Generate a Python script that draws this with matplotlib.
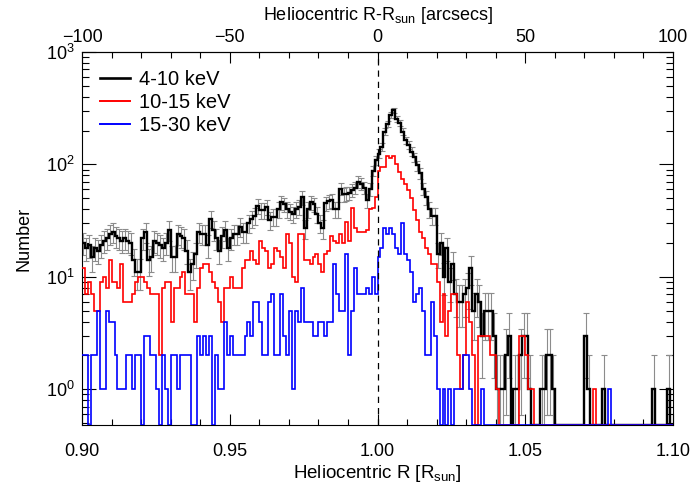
import numpy as np
import matplotlib
matplotlib.use('Agg')
import matplotlib.pyplot as plt
from matplotlib.ticker import MultipleLocator, LogLocator, NullFormatter, FixedLocator
from matplotlib.lines import Line2D

plt.rcParams['font.family'] = ['Liberation Sans', 'DejaVu Sans']
plt.rcParams['mathtext.fontset'] = 'custom'
plt.rcParams['mathtext.rm'] = 'Liberation Sans'
plt.rcParams['mathtext.it'] = 'Liberation Sans:italic'
plt.rcParams['mathtext.bf'] = 'Liberation Sans:bold'

# ---------------- data ----------------
r_min, r_max, n_bins = 0.90, 1.10, 200

counts_4_10 = [
    20, 18, 19, 15, 18, 17, 19, 21, 22, 24,
    25, 23, 22, 21, 22, 21, 20, 14, 11, 11,
    22, 25, 14, 15, 21, 20, 19, 18, 20, 26,
    15, 15, 24, 23, 22, 17, 11, 13, 16, 25,
    24, 24, 19, 33, 26, 22, 17, 23, 26, 18,
    22, 24, 24, 28, 25, 25, 30, 33, 35, 43,
    39, 39, 42, 32, 34, 34, 40, 46, 44, 40,
    38, 36, 40, 42, 51, 27, 40, 46, 44, 36,
    30, 27, 45, 47, 48, 40, 40, 61, 54, 55,
    56, 59, 62, 70, 67, 62, 48, 60, 88, 109,
    125, 143, 195, 230, 275, 303, 255, 235, 195, 164,
    150, 130, 116, 98, 83, 61, 51, 40, 35, 35,
    16, 20, 10, 18, 9, 13, 7, 6, 6, 7,
    8, 12, 5, 7, 6, 3, 5, 5, 5, 3,
    1, 1, 1, 2, 3, 0, 1, 1, 2, 3,
    3, 1, 0, 0, 0, 1, 1, 2, 2, 1,
    0, 0, 0, 0, 0, 0, 0, 0, 0, 0,
    3, 1, 0, 0, 0, 0, 1, 0, 0, 0,
    0, 0, 0, 0, 0, 0, 0, 0, 0, 0,
    0, 0, 0, 1, 0, 0, 0, 0, 1, 0,
]

counts_10_15 = [
    12, 7, 9, 7, 5, 5, 9, 10, 8, 14,
    9, 9, 8, 13, 6, 6, 6, 7, 9, 10,
    10, 9, 8, 7, 7, 7, 2, 8, 9, 9,
    4, 8, 8, 10, 11, 7, 7, 7, 4, 8,
    12, 13, 13, 11, 9, 8, 6, 4, 8, 8,
    10, 8, 8, 8, 12, 14, 14, 17, 14, 13,
    21, 18, 17, 12, 13, 18, 17, 15, 12, 24,
    20, 10, 9, 24, 24, 14, 14, 13, 15, 16,
    13, 11, 16, 17, 23, 21, 20, 24, 20, 31,
    21, 41, 27, 25, 25, 25, 26, 40, 41, 51,
    88, 95, 95, 120, 113, 120, 101, 85, 74, 67,
    59, 50, 39, 32, 25, 22, 18, 16, 13, 13,
    9, 4, 7, 3, 5, 7, 7, 2, 1, 2,
    6, 4, 2, 0, 3, 3, 3, 3, 2, 2,
    1, 0, 0, 0, 0, 0, 0, 0, 3, 3,
    2, 1, 1, 0, 0, 0, 0, 0, 0, 0,
    0, 0, 0, 0, 0, 0, 0, 0, 0, 0,
    0, 0, 0, 1, 0, 0, 0, 0, 0, 0,
    0, 0, 0, 0, 0, 0, 0, 0, 0, 0,
    0, 0, 0, 0, 0, 0, 0, 0, 0, 0,
]

counts_15_30 = [
    2, 2, 0, 2, 2, 5, 1, 1, 5, 4,
    4, 2, 1, 1, 1, 2, 2, 1, 2, 2,
    0, 3, 3, 2, 2, 1, 0, 2, 1, 0,
    2, 2, 1, 2, 2, 2, 2, 0, 0, 3,
    2, 3, 2, 3, 0, 2, 1, 1, 4, 2,
    3, 2, 2, 2, 2, 3, 4, 3, 6, 6,
    4, 2, 2, 6, 7, 2, 2, 7, 3, 2,
    5, 1, 5, 4, 8, 4, 4, 4, 3, 3,
    4, 4, 3, 4, 4, 13, 7, 5, 5, 16,
    2, 5, 12, 7, 7, 7, 8, 7, 10, 7,
    15, 18, 27, 24, 27, 24, 18, 16, 30, 16,
    14, 11, 6, 7, 8, 5, 2, 2, 6, 3,
    1, 0, 1, 0, 1, 0, 1, 1, 1, 2,
    2, 1, 0, 0, 0, 1, 0, 0, 0, 0,
    0, 0, 0, 0, 0, 0, 0, 0, 0, 0,
    0, 0, 0, 0, 0, 0, 0, 0, 0, 0,
    0, 0, 0, 0, 0, 0, 0, 0, 0, 0,
    0, 0, 0, 0, 0, 0, 0, 0, 1, 0,
    0, 0, 0, 0, 0, 0, 0, 0, 0, 0,
    0, 0, 0, 0, 0, 0, 0, 0, 0, 0,
]

series_labels = ['4-10 keV', '10-15 keV', '15-30 keV']
series_colors = ['black', '#ff0000', '#0000ff']
bottom_ticks = [0.90, 0.95, 1.00, 1.05, 1.10]
top_ticks = [-100, -50, 0, 50, 100]

# ---------------- plot ----------------
ymin, ymax = 0.48, 1000.0
edges = np.linspace(r_min, r_max, n_bins + 1)
centers = 0.5 * (edges[:-1] + edges[1:])

fig = plt.figure(figsize=(6.95, 4.87), dpi=100)
ax = fig.add_axes([0.118, 0.1273, 0.8504, 0.7659])
ax.set_yscale('log')
ax.set_xlim(r_min, r_max)
ax.set_ylim(ymin, ymax)

b = np.array(counts_4_10, dtype=float)
m = b > 0
ax.errorbar(centers[m], b[m], yerr=np.sqrt(b[m]), fmt='none', ecolor='#8c8c8c',
            elinewidth=0.8, capsize=2.5, capthick=0.8, zorder=2)

all_counts = [counts_4_10, counts_10_15, counts_15_30]
widths = [1.7, 1.2, 1.2]
for cnt, col, lw, z in zip(all_counts, series_colors, widths, [3, 4, 5]):
    v = np.clip(np.array(cnt, dtype=float), ymin, None)
    ax.stairs(v, edges, color=col, lw=lw, baseline=None, zorder=z)

ax.axvline(1.0, color='black', lw=0.9, ls=(0, (5, 4)), zorder=6)

ax.xaxis.set_major_locator(FixedLocator(bottom_ticks))
ax.xaxis.set_minor_locator(MultipleLocator(0.01))
ax.xaxis.set_major_formatter(matplotlib.ticker.FormatStrFormatter('%.2f'))
ax.yaxis.set_major_locator(LogLocator(base=10, numticks=10))
ax.yaxis.set_minor_locator(LogLocator(base=10, subs=np.arange(2, 10), numticks=20))
ax.yaxis.set_minor_formatter(NullFormatter())
ax.tick_params(axis='x', which='major', direction='in', length=8, width=0.8,
               top=False, bottom=True, labelsize=13, pad=13)
ax.tick_params(axis='x', which='minor', direction='in', length=4, width=0.8,
               top=False, bottom=True)
ax.tick_params(axis='y', which='major', direction='in', length=10, width=0.8,
               left=True, right=True, labelsize=13, pad=5)
ax.tick_params(axis='y', which='minor', direction='in', length=5, width=0.8,
               left=True, right=True)
for s in ax.spines.values():
    s.set_linewidth(0.8)

secax = ax.secondary_xaxis('top', functions=(lambda r: (r - 1.0) * 1000.0,
                                             lambda a: a / 1000.0 + 1.0))
secax.xaxis.set_major_locator(FixedLocator(top_ticks))
secax.xaxis.set_minor_locator(MultipleLocator(10))
secax.tick_params(axis='x', which='major', direction='in', length=8, width=0.8,
                  labelsize=13, pad=4)
secax.tick_params(axis='x', which='minor', direction='in', length=4, width=0.8)
secax.spines['top'].set_linewidth(0.8)
secax.set_xlabel(r'Heliocentric R-R$_{\rm sun}$ [arcsecs]', fontsize=13, labelpad=7)

ax.set_xlabel(r'Heliocentric R [R$_{\rm sun}$]', fontsize=13.5, labelpad=2)
ax.set_ylabel('Number', fontsize=13, labelpad=10)

handles = [Line2D([], [], color=c, lw=w) for c, w in zip(series_colors, [1.9, 1.4, 1.4])]
ax.legend(handles, series_labels, loc='upper left', frameon=False, fontsize=14.5,
          handlelength=1.5, handletextpad=0.45, labelspacing=0.2,
          borderaxespad=0.5, borderpad=0.4)

fig.savefig('out.png', dpi=100)
